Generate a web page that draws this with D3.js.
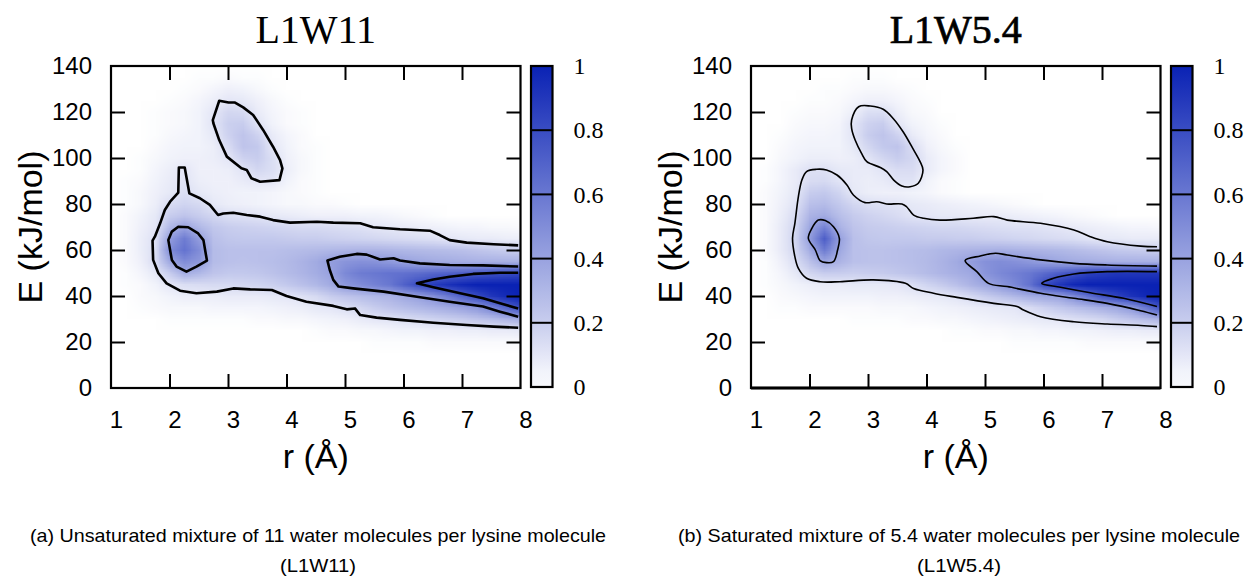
<!DOCTYPE html>
<html><head><meta charset="utf-8">
<script src="https://cdn.jsdelivr.net/npm/d3@7"></script>
<style>body{margin:0;background:#fff}svg{display:block}</style>
</head><body>
<svg id="chart" width="1244" height="577"></svg>
<script>
// ---------- data ----------
const rValues = [1,1.25,1.5,1.75,2,2.25,2.5,2.75,3,3.25,3.5,3.75,4,4.25,4.5,4.75,5,5.25,5.5,5.75,6,6.25,6.5,6.75,7,7.25,7.5,7.75,8];
const eValues = [140,135,130,125,120,115,110,105,100,95,90,85,80,75,70,65,60,55,50,45,40,35,30,25,20,15,10,5,0];
const xTicks = [1,2,3,4,5,6,7,8];
const yTicks = [0,20,40,60,80,100,120,140];
const cbTicks = [0,0.2,0.4,0.6,0.8,1];
const titles = ["L1W11","L1W5.4"];
const captionLine1 = ["(a) Unsaturated mixture of 11 water molecules per lysine molecule",
                      "(b) Saturated mixture of 5.4 water molecules per lysine molecule"];
const captionLine2 = ["(L1W11)","(L1W5.4)"];

// density (rows: E = 140 ... 0, cols: r = 1 ... 8); missing trailing values are 0
const density1 = [
 [],
 [0,0,0,0,0,0,0.01,0.01,0.02,0.01,0.01],
 [0,0,0,0,0,0.01,0.02,0.04,0.06,0.05,0.03,0.01],
 [0,0,0,0,0.01,0.02,0.04,0.07,0.1,0.09,0.06,0.03,0.01],
 [0,0,0,0.01,0.02,0.03,0.05,0.1,0.16,0.15,0.08,0.04,0.02,0.01],
 [0,0,0,0.01,0.02,0.03,0.05,0.11,0.19,0.2,0.11,0.05,0.02,0.01],
 [0,0,0,0.01,0.03,0.04,0.05,0.09,0.18,0.24,0.18,0.08,0.04,0.02],
 [0,0,0,0.02,0.04,0.05,0.05,0.07,0.14,0.24,0.22,0.1,0.05,0.02,0.01],
 [0,0,0.01,0.03,0.05,0.06,0.06,0.07,0.1,0.18,0.2,0.13,0.06,0.03,0.01],
 [0,0,0.01,0.04,0.07,0.1,0.06,0.06,0.07,0.11,0.16,0.13,0.07,0.03,0.01],
 [0,0.01,0.02,0.05,0.08,0.11,0.07,0.06,0.06,0.08,0.1,0.1,0.05,0.02,0.01],
 [0,0.01,0.03,0.06,0.09,0.13,0.09,0.07,0.06,0.05,0.05,0.04,0.03,0.02,0.01],
 [0,0.01,0.03,0.07,0.14,0.17,0.15,0.09,0.07,0.06,0.05,0.04,0.03,0.03,0.02,0.02,0.01],
 [0,0.02,0.05,0.09,0.2,0.24,0.2,0.16,0.13,0.12,0.11,0.09,0.08,0.07,0.06,0.06,0.06,0.05,0.05,0.04,0.03,0.02,0.01],
 [0,0.02,0.06,0.1,0.3,0.4,0.3,0.23,0.2,0.19, 0.18,0.17,0.16,0.15,0.15,0.14,0.13,0.12,0.1,0.09, 0.08,0.07,0.06,0.05,0.04,0.04,0.03,0.03,0.02],
 [0,0.02,0.07,0.12,0.42,0.58,0.42,0.26,0.23,0.22, 0.22,0.22,0.21,0.2,0.2,0.19,0.18,0.17,0.16,0.15, 0.14,0.13,0.12,0.1,0.09,0.08,0.08,0.07,0.07],
 [0,0.02,0.07,0.13,0.5,0.62,0.5,0.28,0.26,0.26, 0.26,0.26,0.27,0.28,0.29,0.3,0.31,0.32,0.32,0.31, 0.3,0.29,0.28,0.27,0.26,0.24,0.22,0.2,0.2],
 [0,0.02,0.06,0.14,0.38,0.5,0.45,0.28,0.26,0.25, 0.26,0.27,0.29,0.32,0.36,0.42,0.46,0.48,0.47,0.44, 0.4,0.38,0.36,0.35,0.34,0.33,0.33,0.33,0.33],
 [0,0.01,0.04,0.09,0.2,0.35,0.3,0.24,0.22,0.22, 0.23,0.25,0.28,0.31,0.35,0.4,0.52,0.58,0.6,0.62, 0.63,0.65,0.68,0.7,0.72,0.75,0.78,0.8,0.82],
 [0,0.01,0.02,0.05,0.1,0.13,0.14,0.15,0.15,0.16, 0.17,0.19,0.22,0.26,0.3,0.36,0.45,0.5,0.55,0.6, 0.7,0.8,0.88,0.93,0.97,1,1,1,1],
 [0,0,0.02,0.03,0.05,0.07,0.07,0.07,0.08,0.08, 0.08,0.09,0.1,0.12,0.15,0.2,0.24,0.27,0.3,0.32, 0.37,0.41,0.48,0.58,0.7,0.8,0.9,0.96,1],
 [0,0,0.01,0.02,0.03,0.03,0.03,0.04,0.04,0.04, 0.04,0.05,0.06,0.07,0.09,0.1,0.13,0.16,0.2,0.24, 0.27,0.3,0.33,0.36,0.4,0.45,0.55,0.68,0.8],
 [0,0,0,0,0.01,0.01,0.01,0.01,0.01,0.01, 0.02,0.02,0.03,0.03,0.04,0.05,0.06,0.08,0.1,0.11, 0.13,0.15,0.17,0.19,0.21,0.24,0.27,0.31,0.35],
 [0,0,0,0,0,0,0,0,0,0, 0,0,0,0,0.01,0.02,0.02,0.03,0.03,0.04, 0.05,0.05,0.06,0.06,0.07,0.07,0.08,0.08,0.09],
 [0,0,0,0,0,0,0,0,0,0, 0,0,0,0,0,0,0,0,0.01,0.01, 0.01,0.01,0.02,0.02,0.02,0.02,0.02,0.02,0.02],
 [],[],[],[]
];
const density2 = [
 [],
 [0,0,0,0,0,0,0,0.01,0.01,0.01],
 [0,0,0,0,0,0.01,0.01,0.02,0.03,0.03,0.02,0.01],
 [0,0,0,0,0.01,0.01,0.02,0.04,0.06,0.06,0.04,0.02,0.01],
 [0,0,0,0.01,0.02,0.02,0.03,0.07,0.13,0.13,0.07,0.03,0.02],
 [0,0,0,0.02,0.03,0.03,0.04,0.11,0.18,0.2,0.1,0.05,0.03,0.01],
 [0,0,0.01,0.03,0.04,0.04,0.05,0.11,0.2,0.24,0.18,0.08,0.04,0.02],
 [0,0,0.02,0.04,0.05,0.05,0.05,0.09,0.16,0.22,0.24,0.14,0.06,0.03,0.01],
 [0,0,0.03,0.05,0.07,0.07,0.06,0.07,0.11,0.16,0.2,0.16,0.08,0.04,0.02],
 [0,0.01,0.04,0.08,0.12,0.12,0.09,0.08,0.08,0.11,0.14,0.14,0.08,0.04,0.02],
 [0,0.01,0.04,0.08,0.14,0.15,0.11,0.08,0.07,0.08,0.11,0.11,0.05,0.02,0.01],
 [0,0.02,0.05,0.09,0.2,0.22,0.17,0.09,0.07,0.06,0.06,0.05,0.04,0.02,0.01],
 [0,0.02,0.06,0.11,0.26,0.28,0.22,0.16,0.13,0.12,0.11,0.09,0.08,0.07,0.06,0.05,0.04,0.03,0.02,0.01],
 [0,0.02,0.07,0.14,0.32,0.36,0.27,0.21,0.18,0.16,0.14,0.11,0.1,0.09,0.09,0.08,0.08,0.08,0.07,0.06,0.05,0.04,0.03,0.02,0.01],
 [0,0.02,0.08,0.16,0.38,0.55,0.33,0.24,0.21,0.2, 0.19,0.18,0.17,0.16,0.16,0.15,0.14,0.13,0.12,0.12, 0.11,0.1,0.08,0.07,0.06,0.05,0.04,0.04,0.03],
 [0,0.02,0.08,0.17,0.42,0.72,0.42,0.26,0.23,0.22, 0.22,0.22,0.21,0.21,0.2,0.2,0.19,0.18,0.17,0.16, 0.15,0.14,0.13,0.11,0.09,0.09,0.08,0.08,0.08],
 [0,0.02,0.08,0.16,0.35,0.58,0.38,0.26,0.25,0.25, 0.26,0.27,0.28,0.3,0.31,0.32,0.33,0.34,0.33,0.32, 0.31,0.3,0.28,0.26,0.24,0.22,0.21,0.2,0.2],
 [0,0.01,0.06,0.13,0.25,0.38,0.32,0.26,0.25,0.25, 0.26,0.27,0.29,0.32,0.36,0.42,0.48,0.5,0.48,0.45, 0.41,0.38,0.36,0.35,0.34,0.33,0.33,0.33,0.33],
 [0,0.01,0.04,0.09,0.16,0.2,0.2,0.19,0.2,0.21, 0.23,0.25,0.28,0.31,0.34,0.37,0.46,0.52,0.56,0.6, 0.66,0.72,0.78,0.85,0.88,0.9,0.9,0.9,0.9],
 [0,0.01,0.03,0.05,0.07,0.08,0.08,0.09,0.09,0.09, 0.1,0.13,0.17,0.21,0.26,0.32,0.38,0.45,0.52,0.62, 0.8,0.9,0.97,1,1,1,1,1,1],
 [0,0,0.02,0.03,0.04,0.05,0.05,0.05,0.05,0.06, 0.06,0.07,0.08,0.09,0.11,0.15,0.2,0.25,0.3,0.35, 0.38,0.4,0.5,0.62,0.76,0.84,0.92,0.97,1],
 [0,0,0.01,0.01,0.02,0.02,0.02,0.02,0.02,0.03, 0.03,0.03,0.04,0.05,0.06,0.07,0.08,0.09,0.1,0.14, 0.18,0.22,0.26,0.3,0.34,0.38,0.45,0.6,0.78],
 [0,0,0,0,0,0,0,0.01,0.01,0.01, 0.01,0.02,0.02,0.03,0.03,0.04,0.05,0.06,0.07,0.08, 0.09,0.1,0.12,0.14,0.16,0.2,0.24,0.28,0.32],
 [0,0,0,0,0,0,0,0,0,0, 0,0,0,0,0.01,0.01,0.02,0.02,0.03,0.03, 0.04,0.04,0.05,0.05,0.06,0.07,0.07,0.08,0.08],
 [0,0,0,0,0,0,0,0,0,0, 0,0,0,0,0,0,0,0,0.01,0.01, 0.01,0.01,0.01,0.02,0.02,0.02,0.02,0.02,0.02],
 [],[],[],[]
];

// contour lines, points as [r (Å), E (kJ/mol)]
const p1Outer = [[7.96,26.2],[7.54,26.7],[7.08,27.4],[6.51,28.4],[5.94,29.6],[5.54,30.6],[5.26,31.7],[5.17,34.6],[5.03,34.2],[4.80,35.7],[4.34,37.5],[4.00,40.0],[3.75,42.6],[3.38,42.9],[3.09,43.3],[2.81,41.9],[2.46,41.2],[2.18,42.3],[1.95,45.5],[1.81,49.9],[1.72,55.7],[1.71,64.1],[1.75,65.8],[1.84,71.6],[1.92,77.4],[2.01,81.0],[2.15,84.9],[2.16,95.9],[2.26,95.9],[2.34,84.6],[2.52,82.5],[2.69,79.6],[2.83,75.2],[2.92,75.9],[3.09,76.2],[3.32,75.2],[3.55,74.5],[3.77,73.0],[4.06,71.9],[4.52,72.3],[4.80,71.9],[5.26,71.6],[5.48,69.9],[5.94,69.0],[6.45,68.4],[6.62,66.5],[6.79,64.3],[7.08,63.2],[7.54,62.5],[7.96,62.0]];
const p1Middle = [[7.96,52.8],[7.36,53.3],[6.79,53.5],[6.28,54.2],[5.94,55.4],[5.83,56.4],[5.60,55.9],[5.37,58.0],[5.20,58.3],[4.91,57.1],[4.70,55.4],[4.74,51.3],[4.80,47.0],[4.89,44.1],[5.14,43.3],[5.66,41.9],[6.23,39.7],[6.79,37.5],[7.36,35.4],[7.65,33.2],[7.96,31.0]];
const p1Inner = [[7.96,50.1],[7.65,50.1],[7.19,49.6],[6.79,48.4],[6.51,47.2],[6.23,45.5],[6.51,43.8],[6.97,41.2],[7.36,39.0],[7.65,36.8],[7.96,34.6]];
const p1Blob = [[2.15,70.1],[2.32,69.9],[2.49,67.2],[2.58,64.3],[2.64,55.4],[2.46,52.8],[2.29,50.6],[2.12,52.8],[2.04,55.7],[1.98,64.3],[2.04,68.0]];
const p1Upper = [[2.85,124.9],[3.01,124.1],[3.12,124.1],[3.26,122.0],[3.43,118.7],[3.60,112.2],[3.77,104.9],[3.89,99.1],[3.93,95.5],[3.88,90.4],[3.55,89.7],[3.40,91.2],[3.32,94.8],[3.23,95.5],[2.98,100.6],[2.85,107.8],[2.75,115.1],[2.74,116.5]];

const p2Outer = [[7.94,26.7],[7.66,27.2],[7.09,27.8],[6.52,28.8],[5.95,31.0],[5.66,33.9],[5.55,35.4],[5.15,36.8],[4.52,39.4],[4.12,41.2],[3.78,43.3],[3.64,45.5],[3.09,47.0],[2.52,46.2],[2.18,46.2],[1.95,47.7],[1.81,52.0],[1.75,57.1],[1.71,65.1],[1.75,71.6],[1.81,83.2],[1.87,90.4],[1.95,94.1],[2.12,95.1],[2.29,94.8],[2.47,92.6],[2.64,88.3],[2.75,83.9],[2.95,80.6],[3.15,81.0],[3.32,80.0],[3.58,80.0],[3.66,78.8],[3.78,75.2],[3.95,73.8],[4.23,73.0],[4.80,73.8],[5.15,74.5],[5.38,73.0],[5.95,71.6],[6.52,68.7],[6.80,65.8],[7.09,63.6],[7.66,61.7],[7.94,61.4]];
const p2Middle = [[7.94,53.0],[7.09,53.5],[6.52,54.2],[5.95,55.7],[5.38,57.8],[5.18,58.6],[4.92,57.4],[4.66,55.4],[4.86,50.6],[5.06,45.5],[5.38,44.1],[5.95,41.2],[6.52,39.0],[7.09,36.8],[7.66,33.6],[7.94,31.7]];
const p2Inner = [[7.94,50.6],[7.09,50.6],[6.52,49.6],[6.17,47.7],[5.97,45.5],[6.29,43.8],[6.80,41.4],[7.37,39.0],[7.94,35.4]];
const p2Blob = [[2.15,73.0],[2.27,72.8],[2.41,70.1],[2.51,65.1],[2.48,60.0],[2.41,54.9],[2.29,54.5],[2.18,55.4],[2.10,60.0],[1.98,65.1],[2.04,69.4]];
const p2Upper = [[2.84,122.3],[3.04,122.6],[3.26,121.2],[3.43,117.2],[3.60,111.4],[3.78,103.5],[3.89,98.4],[3.94,94.8],[3.86,89.0],[3.72,87.5],[3.58,87.8],[3.44,90.4],[3.32,94.1],[3.21,95.9],[2.98,98.4],[2.89,102.0],[2.78,107.8],[2.72,112.9],[2.72,116.5]];

// ---------- drawing ----------
const SANS = "'Liberation Sans', Arial, sans-serif";
const SERIF = "'Liberation Serif', 'Times New Roman', serif";
const svg = d3.select("#chart");
svg.append("rect").attr("width",1244).attr("height",577).attr("fill","#fff");
const color = d3.scaleLinear().domain([0,0.2,1]).range(["#ffffff","#c8cdee","#0a22b4"]).clamp(true);
const nCols = rValues.length, nRows = eValues.length;
const fill = row => row.concat(Array(Math.max(0, nCols - row.length)).fill(0));

function heatURL(density){
  const cv = document.createElement("canvas");
  cv.width = nCols; cv.height = nRows;
  const ctx = cv.getContext("2d");
  const img = ctx.createImageData(nCols, nRows);
  density.map(fill).forEach((row, j) => row.forEach((v, i) => {
    const c = d3.rgb(color(v)); const k = (j*nCols + i)*4;
    img.data[k]=c.r; img.data[k+1]=c.g; img.data[k+2]=c.b; img.data[k+3]=255;
  }));
  ctx.putImageData(img,0,0);
  return cv.toDataURL();
}

const panels = [
  {ox:0, density:density1, open:[p1Outer,p1Middle,p1Inner], closed:[p1Blob,p1Upper], lw:2.6, curve:d3.curveLinear, curveC:d3.curveLinearClosed, bottomW:2.2, titleStroke:0},
  {ox:640, density:density2, open:[p2Outer,p2Middle,p2Inner], closed:[p2Blob,p2Upper], lw:1.6, curve:d3.curveCatmullRom.alpha(0.5), curveC:d3.curveCatmullRomClosed.alpha(0.5), bottomW:3.2, titleStroke:0.7}
];

function styleText(sel, fam, size){
  sel.selectAll("text").attr("font-family", fam).style("font-family", fam).attr("font-size", size).style("font-size", size+"px").attr("fill","#000");
}

panels.forEach((P, pi) => {
  const L = 111 + P.ox, R = 520.5 + P.ox, T = 66, B = 388;
  const x = d3.scaleLinear().domain([1,8]).range([L,R]);
  const y = d3.scaleLinear().domain([0,140]).range([B,T]);
  const g = svg.append("g");
  const clipId = "clip"+pi;
  g.append("clipPath").attr("id",clipId).append("rect").attr("x",L).attr("y",T).attr("width",R-L).attr("height",B-T);

  // heat map
  const dr = rValues[1]-rValues[0], dE = eValues[0]-eValues[1];
  g.append("image")
    .attr("href", heatURL(P.density))
    .attr("x", x(rValues[0]-dr/2)).attr("width", x(rValues[nCols-1]+dr/2)-x(rValues[0]-dr/2))
    .attr("y", y(eValues[0]+dE/2)).attr("height", y(eValues[nRows-1]-dE/2)-y(eValues[0]+dE/2))
    .attr("preserveAspectRatio","none")
    .attr("clip-path","url(#"+clipId+")");

  // contours
  const line = d3.line().x(d=>x(d[0])).y(d=>y(d[1])).curve(P.curve);
  const lineC = d3.line().x(d=>x(d[0])).y(d=>y(d[1])).curve(P.curveC);
  const cg = g.append("g").attr("fill","none").attr("stroke","#000").attr("stroke-width",P.lw).attr("stroke-linejoin","round");
  P.open.forEach(c => cg.append("path").attr("d", line(c)));
  P.closed.forEach(c => cg.append("path").attr("d", lineC(c)));

  // inward ticks
  const inner = xTicks.slice(1,-1), innerY = yTicks.slice(1,-1);
  const tk = (axis) => { const a = g.append("g"); a.call(axis); a.select(".domain").remove(); a.selectAll("line").attr("stroke","#000").attr("stroke-width",2); return a; };
  tk(d3.axisBottom(x).tickValues(inner).tickSize(-14).tickFormat("")).attr("transform",`translate(0,${B})`);
  tk(d3.axisTop(x).tickValues(inner).tickSize(-14).tickFormat("")).attr("transform",`translate(0,${T})`);
  tk(d3.axisLeft(y).tickValues(innerY).tickSize(-14).tickFormat("")).attr("transform",`translate(${L},0)`);
  tk(d3.axisRight(y).tickValues(innerY).tickSize(-14).tickFormat("")).attr("transform",`translate(${R},0)`);

  // frame
  g.append("rect").attr("x",L).attr("y",T).attr("width",R-L).attr("height",B-T).attr("fill","none").attr("stroke","#000").attr("stroke-width",2.2);
  g.append("line").attr("x1",L).attr("x2",R).attr("y1",B).attr("y2",B).attr("stroke","#000").attr("stroke-width",P.bottomW);

  // tick labels
  const xl = g.append("g").attr("transform",`translate(5,${B})`).call(d3.axisBottom(x).tickValues(xTicks).tickSize(0).tickPadding(23).tickFormat(d3.format("d")));
  xl.select(".domain").remove();
  styleText(xl, SANS, 24);
  const yl = g.append("g").attr("transform",`translate(${L},0)`).call(d3.axisLeft(y).tickValues(yTicks).tickSize(0).tickPadding(19).tickFormat(d3.format("d")));
  yl.select(".domain").remove();
  styleText(yl, SANS, 24);

  // axis titles
  g.append("text").attr("x",(L+R)/2).attr("y",468).attr("text-anchor","middle")
    .attr("font-family",SANS).attr("font-size",34).text("r (Å)");
  g.append("text").attr("transform",`translate(${42+P.ox},227) rotate(-90)`).attr("text-anchor","middle")
    .attr("font-family",SANS).attr("font-size",34).text("E (kJ/mol)");

  // title
  g.append("text").attr("x",(L+R)/2).attr("y",43).attr("text-anchor","middle")
    .attr("font-family",SERIF).attr("font-size",40)
    .attr("stroke","#000").attr("stroke-width",P.titleStroke).text(titles[pi]);

  // colour bar
  const cx = 531 + P.ox, cw = 21.5;
  const cy = d3.scaleLinear().domain([0,1]).range([387,66]);
  const gradId = "grad"+pi;
  const grad = svg.append("defs").append("linearGradient").attr("id",gradId).attr("x1",0).attr("y1",1).attr("x2",0).attr("y2",0);
  d3.range(0,1.0001,0.05).forEach(t => grad.append("stop").attr("offset",t).attr("stop-color",color(Math.max(t,0.03))));
  g.append("rect").attr("x",cx).attr("y",cy(1)).attr("width",cw).attr("height",cy(0)-cy(1)).attr("fill","url(#"+gradId+")");
  g.selectAll(".sep"+pi).data(cbTicks.slice(1,-1)).join("line")
    .attr("x1",cx).attr("x2",cx+cw).attr("y1",d=>cy(d)).attr("y2",d=>cy(d)).attr("stroke","#000").attr("stroke-width",2);
  g.append("rect").attr("x",cx).attr("y",cy(1)).attr("width",cw).attr("height",cy(0)-cy(1)).attr("fill","none").attr("stroke","#000").attr("stroke-width",2.2);
  const cl = g.append("g").attr("transform",`translate(${cx+cw},0)`)
    .call(d3.axisRight(cy).tickValues(cbTicks).tickSize(0).tickPadding(21).tickFormat(d => (d===0||d===1) ? String(d) : d.toFixed(1)));
  cl.select(".domain").remove();
  styleText(cl, SERIF, 24);

  // captions
  const capX = [318, 959][pi], capW = [576, 562][pi], capW2 = [76, 84][pi];
  g.append("text").attr("x",capX).attr("y",542).attr("text-anchor","middle")
    .attr("font-family",SANS).attr("font-size",19)
    .attr("textLength",capW).attr("lengthAdjust","spacingAndGlyphs").text(captionLine1[pi]);
  g.append("text").attr("x",capX).attr("y",572).attr("text-anchor","middle")
    .attr("font-family",SANS).attr("font-size",19)
    .attr("textLength",capW2).attr("lengthAdjust","spacingAndGlyphs").text(captionLine2[pi]);
});
</script>
</body></html>
